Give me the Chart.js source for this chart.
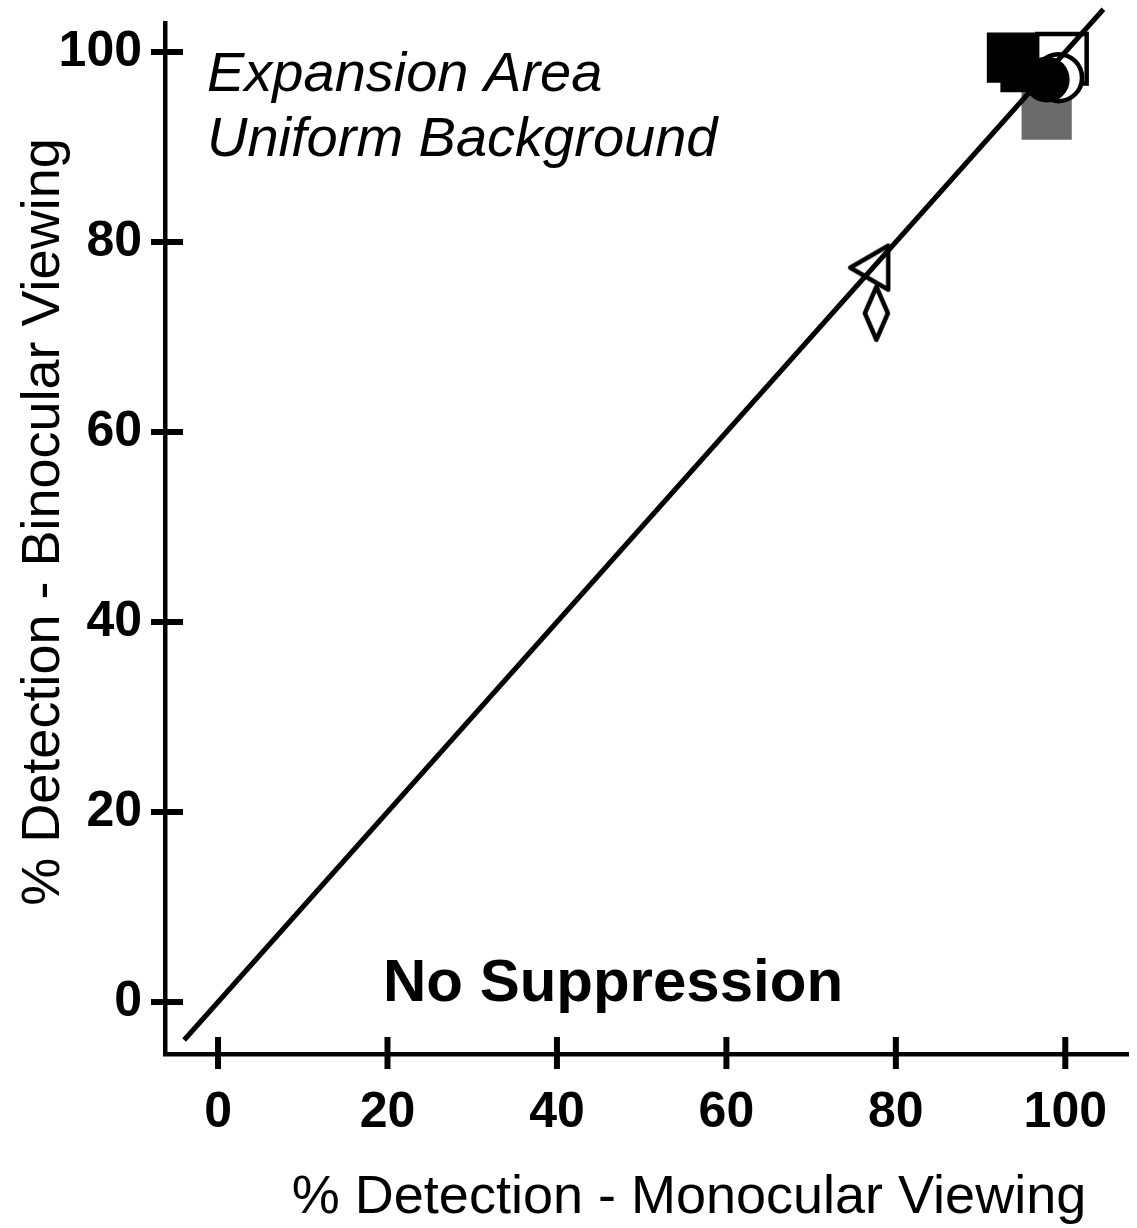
<!DOCTYPE html>
<html>
<head>
<meta charset="utf-8">
<script src="https://cdn.jsdelivr.net/npm/chart.js@4.4.1/dist/chart.umd.min.js"></script>
<style>
    body { margin: 0; background: #fff; }
    canvas { display: block; }
</style>
</head>
<body>
<canvas id="chart" width="1137" height="1228"></canvas>
<script>
const FONT = '"Liberation Sans", Arial, Helvetica, sans-serif'

const xTicks = [0, 20, 40, 60, 80, 100]
const yTicks = [0, 20, 40, 60, 80, 100]

// no-suppression line, binocular = monocular
const unityLine = [-4, 104.5]

const filledSquareX = [93.7, 95.3]
const filledSquareY = [99.4, 98.4]
const graySquareX = [97.8]
const graySquareY = [93.4]
const openSquareX = [99.6]
const openSquareY = [99.3]
const openCircleX = [99.2]
const openCircleY = [97.3]
const filledCircleX = [97.8]
const filledCircleY = [97.1]
const triangleX = [76.8]
const triangleY = [77.3]
const diamondX = [77.7]
const diamondY = [72.5]

const points = (xs, ys) => xs.map((x, i) => ({ x: x, y: ys[i] }))

// outlined marker shapes that chart.js has no built-in style for
const shapeCanvas = (w, h, path) => {
    const c = document.createElement('canvas')
    c.width = w
    c.height = h
    const ctx = c.getContext('2d')
    ctx.beginPath()
    path.forEach(([px, py], i) => i ? ctx.lineTo(px, py) : ctx.moveTo(px, py))
    ctx.closePath()
    ctx.fillStyle = '#fff'
    ctx.fill()
    ctx.lineWidth = 4.5
    ctx.lineJoin = 'round'
    ctx.strokeStyle = '#000'
    ctx.stroke()
    return c
}
const leftTriangle = shapeCanvas(45, 51, [[4, 25.5], [42, 3.5], [42, 47.5]])
const tallDiamond = shapeCanvas(29, 59, [[14.5, 3], [26, 29.5], [14.5, 56], [3, 29.5]])

const marker = (data, style, radius, fill, border, order) => ({
    data: data,
    pointStyle: style,
    pointRadius: radius,
    pointHoverRadius: radius,
    pointBackgroundColor: fill,
    pointBorderColor: '#000',
    pointBorderWidth: border,
    order: order
})

const datasets = [
    {
        type: 'line',
        data: unityLine.map(v => ({ x: v, y: v })),
        borderColor: '#000',
        borderWidth: 5,
        pointRadius: 0,
        clip: false,
        order: 0
    },
    marker(points(filledCircleX, filledCircleY), 'circle', 23, '#000', 0, 1),
    marker(points(triangleX, triangleY), leftTriangle, 3, '#fff', 0, 1),
    marker(points(diamondX, diamondY), tallDiamond, 3, '#fff', 0, 1),
    marker(points(openCircleX, openCircleY), 'circle', 23.5, '#fff', 4.5, 2),
    marker(points(openSquareX, openSquareY), 'rect', 35, '#fff', 4.5, 3),
    marker(points(filledSquareX, filledSquareY), 'rect', 35.5, '#000', 0, 4),
    marker(points(graySquareX, graySquareY), 'rect', 35.5, '#6b6b6b', 0, 5)
]

const tickFont = { family: FONT, size: 50, weight: 'bold' }

// labels may hang past the plot edges; only the layout padding counts
const noLabelPadding = scale => {
    scale.paddingLeft = 0
    scale.paddingRight = 0
    scale.paddingTop = 0
    scale.paddingBottom = 0
}

const decorations = {
    id: 'decorations',
    afterDraw(chart) {
        const { ctx, chartArea, scales: { x, y } } = chart
        ctx.save()

        // tick marks cross the axis lines
        ctx.strokeStyle = '#000'
        ctx.lineWidth = 6
        x.ticks.forEach(t => {
            const px = x.getPixelForValue(t.value)
            ctx.beginPath()
            ctx.moveTo(px, chartArea.bottom - 17)
            ctx.lineTo(px, chartArea.bottom + 15)
            ctx.stroke()
        })
        y.ticks.forEach(t => {
            const py = y.getPixelForValue(t.value)
            ctx.beginPath()
            ctx.moveTo(chartArea.left - 14, py)
            ctx.lineTo(chartArea.left + 18, py)
            ctx.stroke()
        })

        ctx.fillStyle = '#000'
        ctx.textBaseline = 'alphabetic'

        ctx.textAlign = 'left'
        ctx.font = `italic 56px ${FONT}`
        ctx.fillText('Expansion Area', 207, 91)
        ctx.fillText('Uniform Background', 207, 156)

        ctx.font = `bold 60px ${FONT}`
        ctx.fillText('No Suppression', 383, 1001)

        ctx.textAlign = 'center'
        ctx.font = `54px ${FONT}`
        ctx.fillText('% Detection - Monocular Viewing', 689, 1213)

        ctx.translate(59, 522)
        ctx.rotate(-Math.PI / 2)
        ctx.fillText('% Detection - Binocular Viewing', 0, 0)

        ctx.restore()
    }
}

const chart = new Chart('chart', {
    type: 'scatter',
    data: { datasets: datasets },
    plugins: [decorations],
    options: {
        responsive: false,
        animation: false,
        events: [],
        layout: { autoPadding: false, padding: { top: 23, right: 9, left: 0, bottom: 0 } },
        plugins: {
            legend: { display: false },
            tooltip: { enabled: false }
        },
        scales: {
            x: {
                type: 'linear',
                min: -6.26,
                max: 107.4,
                afterBuildTicks: scale => { scale.ticks = xTicks.map(v => ({ value: v })) },
                afterFit: scale => {
                    scale.height = 174
                    noLabelPadding(scale)
                },
                grid: { display: false },
                border: { display: true, color: '#000', width: 4.5 },
                ticks: { color: '#000', font: tickFont, padding: 21, maxRotation: 0, autoSkip: false }
            },
            y: {
                type: 'linear',
                min: -5.47,
                max: 103.05,
                afterBuildTicks: scale => { scale.ticks = yTicks.map(v => ({ value: v })) },
                afterFit: scale => {
                    scale.width = 165
                    noLabelPadding(scale)
                },
                grid: { display: false },
                border: { display: true, color: '#000', width: 4.5 },
                ticks: { color: '#000', font: tickFont, padding: 15, autoSkip: false }
            }
        }
    }
})
</script>
</body>
</html>
